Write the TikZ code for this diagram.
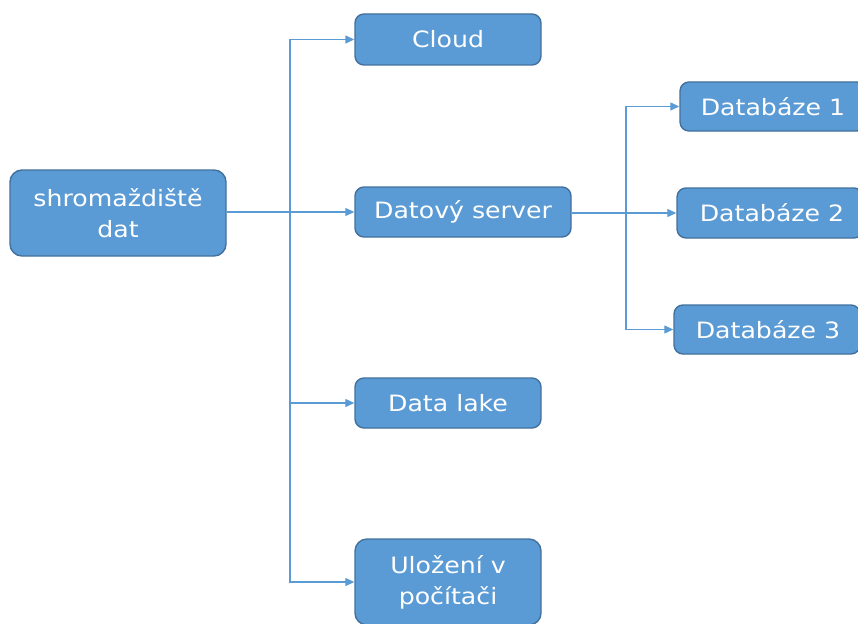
\documentclass[tikz,border=0pt]{standalone}
\usepackage{fontspec}
\setmainfont[FakeStretch=1.12]{DejaVu Sans}
\usetikzlibrary{arrows.meta}
\definecolor{boxfill}{HTML}{5B9BD5}
\definecolor{boxline}{HTML}{41719C}
\definecolor{linkcol}{HTML}{5B9BD5}
\begin{document}
\begin{tikzpicture}[x=1pt,y=-1pt,
  box/.style={rectangle, rounded corners=9pt, fill=boxfill, draw=boxline,
    line width=1.4pt, text=white, font=\fontsize{22.5}{31}\selectfont,
    align=center, inner sep=0pt},
  link/.style={draw=linkcol, line width=1.2pt,
    -{Triangle[length=9pt,width=8pt]}}]
  \fill[white] (0,0) rectangle (858,623);
  \useasboundingbox (0,0) rectangle (858,623);

  % left level
  \node[box, rounded corners=12pt, minimum width=216pt, minimum height=86pt] (root) at (118,213) {shromaždiště\\dat};
  \node[box, minimum width=186pt, minimum height=51pt] (cloud) at (448,39.5) {Cloud};
  \node[box, minimum width=216pt, minimum height=50pt] (server) at (463,212) {Datový server};
  \node[box, minimum width=186pt, minimum height=50pt] (lake) at (448,403) {Data lake};
  \node[box, rounded corners=12pt, minimum width=186pt, minimum height=86pt] (uloz) at (448,582) {Uložení v\\počítači};

  % databases
  \node[box, minimum width=186pt, minimum height=49pt] (db1) at (773,106.5) {Databáze 1};
  \node[box, minimum width=186pt, minimum height=50pt] (db2) at (770,213) {Databáze 2\hspace*{-4pt}};
  \node[box, minimum width=186pt, minimum height=49pt] (db3) at (767,329.5) {Databáze 3\hspace*{-2pt}};

  % connectors from the root
  \coordinate (j1) at (290,212);
  \draw[link] (root.east |- j1) -- (server.west);
  \draw[link] (j1) |- (cloud.west);
  \draw[link] (j1) |- (lake.west);
  \draw[link] (j1) |- (uloz.west);

  % connectors from the server
  \coordinate (j2) at (626,213);
  \draw[link] (server.east |- j2) -- (db2.west);
  \draw[link] (j2) |- (db1.west);
  \draw[link] (j2) |- (db3.west);
\end{tikzpicture}
\end{document}
